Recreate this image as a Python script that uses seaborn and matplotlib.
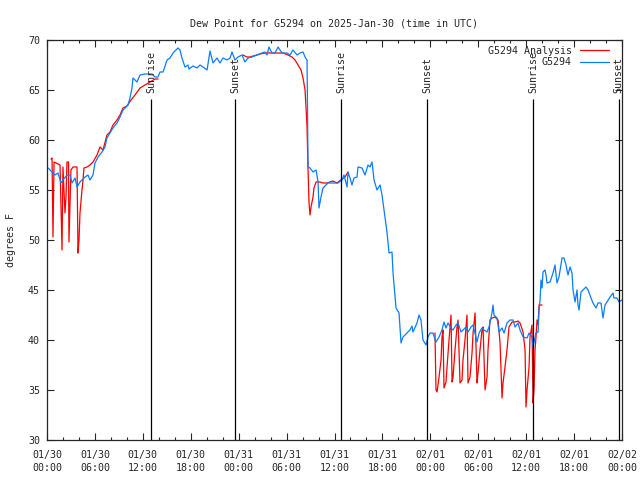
import numpy as np
import pandas as pd
import matplotlib
matplotlib.use('Agg')
import matplotlib.pyplot as plt
import matplotlib.dates as mdates
import seaborn as sns

# Hours since 2025-01-30 00:00 UTC, dew point in F
obs_hours = [0.13, 0.63, 1.00, 1.38, 1.75, 2.00, 2.50, 2.88, 3.13, 3.51, 3.76, 4.13, 4.38, 4.76, 5.13,
             5.38, 5.76, 6.01, 6.39, 6.89, 7.26, 7.51, 7.89, 8.26, 8.77, 9.14, 9.52, 10.14, 10.39, 10.64,
             10.77, 11.27, 11.65, 12.27, 13.15, 13.52, 13.90, 14.15, 14.53, 15.03, 15.40, 15.78, 16.40,
             16.65, 16.90, 17.28, 17.66, 17.78, 18.28, 18.78, 19.16, 19.53, 20.04, 20.41, 20.79, 21.29,
             21.66, 22.04, 22.54, 22.92, 23.17, 23.54, 23.92, 24.42, 24.79, 25.17, 25.67, 26.30, 26.92,
             27.30, 27.55, 27.80, 28.17, 28.55, 28.93, 29.43, 30.05, 30.43, 30.80, 31.31, 31.68, 32.06,
             32.31, 32.56, 32.62, 32.68, 32.93, 33.31, 33.69, 33.94, 34.06, 34.31, 34.56, 34.94, 35.19,
             35.81, 36.44, 36.94, 37.19, 37.57, 37.69, 37.94, 38.19, 38.44, 38.82, 38.94, 39.44, 39.82,
             40.20, 40.45, 40.70, 40.95, 41.32, 41.70, 41.95, 42.20, 42.57, 42.83, 43.20, 43.33, 43.70,
             44.08, 44.33, 44.58, 45.08, 45.45, 45.71, 45.83, 46.33, 46.58, 46.83, 47.08, 47.46, 47.71,
             47.96, 48.33, 48.71, 49.09, 49.46, 49.71, 49.96, 50.21, 50.59, 50.84, 51.22, 51.47, 51.84,
             52.09, 52.47, 52.72, 53.10, 53.35, 53.85, 54.10, 54.47, 54.72, 55.10, 55.35, 55.72, 55.85,
             55.97, 56.35, 56.60, 56.98, 57.23, 57.60, 57.98, 58.36, 58.61, 58.98, 59.23, 59.61, 60.11,
             60.36, 60.73, 60.86, 61.23, 61.49, 61.61, 61.74, 61.86, 61.99, 62.11, 62.36, 62.49, 62.61,
             62.99, 63.36, 63.61, 63.86, 64.11, 64.49, 64.74, 64.99, 65.24, 65.49, 65.74, 65.87, 66.12,
             66.37, 66.49, 66.62, 66.87, 67.12, 67.49, 67.75, 68.12, 68.37, 68.75, 69.00, 69.37, 69.62,
             69.87, 70.12, 70.50, 70.88, 71.00, 71.38, 71.63, 72.00]
obs_dewpt = [57.2, 56.8, 56.5, 56.7, 55.7, 56.0, 56.5, 56.5, 55.7, 56.2, 55.3, 55.8, 56.0, 56.3, 56.5,
             56.0, 56.5, 57.7, 58.3, 58.8, 59.3, 60.2, 60.7, 61.2, 61.7, 62.3, 63.0, 63.5, 64.2, 65.2,
             66.2, 65.8, 66.5, 66.6, 66.6, 66.3, 66.3, 66.8, 66.8, 68.0, 68.2, 68.7, 69.2,
             69.0, 68.2, 67.3, 67.5, 67.1, 67.4, 67.2, 67.5, 67.3, 67.0, 68.9, 67.7, 68.2,
             67.7, 68.2, 68.0, 68.2, 68.8, 68.0, 68.3, 68.5, 67.8, 68.2, 68.3, 68.5, 68.7,
             68.8, 68.5, 69.3, 68.7, 68.7, 69.3, 68.7, 68.7, 68.5, 69.0, 68.5, 68.7, 68.8,
             68.3, 68.0, 63.3, 57.3, 57.2, 56.8, 57.0, 55.8, 53.2, 54.3, 55.2, 55.5, 55.7,
             55.7, 55.7, 56.0, 56.5, 55.3, 56.8, 56.2, 55.5, 56.2, 56.3, 57.3, 57.2, 56.5,
             57.5, 57.3, 57.8, 56.0, 55.0, 55.5, 54.5, 53.0, 50.8, 48.7, 48.8, 46.7, 43.2,
             42.7, 39.7, 40.3, 40.7, 41.0, 41.4, 40.8, 41.7, 42.5, 42.0, 40.0, 39.5, 40.3,
             40.7, 40.7, 39.8, 40.3, 41.0, 41.8, 41.2, 41.7, 41.2, 41.0, 41.5, 41.7, 40.8,
             41.0, 41.3, 40.8, 41.3, 41.5, 39.8, 40.7, 41.2, 41.0, 40.8, 41.3, 42.7, 43.5,
             42.5, 42.2, 40.8, 41.2, 40.7, 41.7, 42.0, 42.0, 41.3, 41.7, 41.0, 40.3, 40.2,
             40.7, 40.3, 39.3, 40.7, 40.8, 43.0, 44.0, 46.0, 45.2, 46.8, 47.0, 46.5, 45.7,
             45.8, 46.7, 47.5, 45.7, 46.3, 48.2, 48.2, 47.5, 46.5, 47.3, 46.7, 45.0, 43.8,
             45.0, 43.5, 43.0, 44.8, 45.0, 45.3, 45.0, 44.2, 43.7, 43.2, 43.7, 43.7, 42.2,
             43.5, 43.8, 44.3, 44.7, 44.2, 44.2, 43.8, 44.0]

# Analysis series, three separate stretches
ana_seg = [1] * 42 + [2] * 34 + [3] * 64
ana_hours = [0.50, 0.63, 0.75, 0.88, 1.63, 1.88, 2.00, 2.25, 2.38, 2.50, 2.69, 2.75, 3.00, 3.26, 3.76,
             3.82, 3.88, 4.01, 4.13, 4.38, 4.51, 4.63, 5.01, 5.38, 5.76, 6.26, 6.64, 7.01, 7.51, 7.89,
             8.26, 8.77, 9.14, 9.52, 10.02, 10.52, 11.02, 11.65, 12.27, 12.90, 13.52, 13.90,
             24.54, 25.04, 25.42, 25.80, 26.30, 26.67, 27.30, 27.92, 28.80, 29.55, 30.18, 30.68, 31.06,
             31.43, 31.81, 32.06, 32.31, 32.43, 32.56, 32.68, 32.81, 32.93, 33.06, 33.31, 33.43, 33.69,
             34.19, 34.56, 35.06, 35.81, 36.31, 36.94, 37.32, 37.69,
             48.58, 48.71, 48.84, 49.09, 49.34, 49.46, 49.59, 49.71, 49.96, 50.09, 50.34, 50.59, 50.72,
             50.84, 51.09, 51.34, 51.47, 51.72, 51.97, 52.09, 52.34, 52.59, 52.72, 52.97, 53.22, 53.35,
             53.60, 53.85, 53.97, 54.22, 54.47, 54.60, 54.85, 55.10, 55.22, 55.47, 55.72, 56.10, 56.48,
             56.73, 56.98, 57.10, 57.35, 57.60, 57.85, 58.23, 58.61, 58.98, 59.23, 59.61, 59.86, 59.98,
             60.11, 60.36, 60.48, 60.73, 60.86, 60.98, 61.11, 61.23, 61.36, 61.49, 61.61, 61.99]
ana_dewpt = [58.1, 58.2, 50.3, 57.8, 57.5, 49.0, 57.3, 52.7, 54.3, 57.8, 57.8, 49.8, 57.0, 57.3, 57.3,
             53.0, 48.7, 50.0, 52.7, 55.0, 56.0, 57.2, 57.3, 57.5, 57.8, 58.5, 59.3, 59.0, 60.5, 60.8,
             61.5, 62.0, 62.5, 63.2, 63.4, 64.0, 64.5, 65.2, 65.5, 65.8, 66.1, 66.1,
             68.5, 68.3, 68.3, 68.4, 68.5, 68.6, 68.7, 68.7, 68.7, 68.7, 68.5, 68.3, 68.0,
             67.5, 67.0, 66.2, 65.0, 63.3, 61.3, 57.3, 53.7, 52.5, 53.3, 54.3, 55.2, 55.8,
             55.8, 55.7, 55.7, 55.9, 55.7, 56.1, 56.3, 56.8,
             40.7, 35.0, 34.8, 36.3, 38.0, 40.3, 41.0, 35.2, 35.8, 37.3, 40.0, 42.5, 35.8,
             36.3, 39.0, 41.3, 42.0, 35.7, 36.0, 38.0, 40.0, 42.5, 35.7, 36.3, 38.7, 40.7,
             42.7, 35.7, 36.7, 39.0, 41.0, 41.3, 35.0, 36.3, 39.0, 42.0, 42.2, 42.3, 42.0,
             39.7, 34.2, 35.7, 37.3, 39.0, 41.3, 41.8, 41.8, 41.9, 41.7, 40.8, 39.0, 33.3,
             35.0, 37.3, 40.3, 41.5, 33.7, 35.0, 39.0, 40.3, 42.0, 41.5, 43.5, 43.5]

# Sun events (hours since start)
sun_hours = [13.02, 23.54, 36.80, 47.58, 60.86, 71.60]
sun_labels = ['Sunrise', 'Sunset', 'Sunrise', 'Sunset', 'Sunrise', 'Sunset']

start = pd.Timestamp('2025-01-30 00:00')
end = pd.Timestamp('2025-02-02 00:00')

df_ana = pd.DataFrame({'time': start + pd.to_timedelta(ana_hours, unit='h'),
                       'dewpt': ana_dewpt, 'series': 'G5294 Analysis', 'seg': ana_seg})
df_obs = pd.DataFrame({'time': start + pd.to_timedelta(obs_hours, unit='h'),
                       'dewpt': obs_dewpt, 'series': 'G5294', 'seg': 0})
df = pd.concat([df_ana, df_obs], ignore_index=True)

sns.set_style('ticks')
plt.rcParams['font.family'] = ['DejaVu Sans Mono']
fs = 7.2

fig = plt.figure(figsize=(6.4, 4.8), dpi=100)
ax = fig.add_axes([47 / 640, 40 / 480, 575 / 640, 400 / 480])

sns.lineplot(data=df, x='time', y='dewpt', hue='series', units='seg', estimator=None,
             hue_order=['G5294 Analysis', 'G5294'],
             palette={'G5294 Analysis': '#ff0000', 'G5294': '#0a7cff'},
             linewidth=0.9, ax=ax)

sun_times = start + pd.to_timedelta(sun_hours, unit='h')
ax.vlines(sun_times, 30, 64.1, color='black', linewidth=0.9)
for t, lab in zip(sun_times, sun_labels):
    ax.text(t, 64.7, lab, rotation=90, ha='center', va='bottom', fontsize=fs)

ax.set_xlim(start, end)
ax.set_ylim(30, 70)
ax.set_yticks(np.arange(30, 71, 5))
ax.xaxis.set_major_locator(mdates.HourLocator(byhour=[0, 6, 12, 18]))
ax.xaxis.set_minor_locator(mdates.HourLocator(byhour=range(0, 24, 2)))
ax.xaxis.set_major_formatter(mdates.DateFormatter('%m/%d\n%H:%M'))
ax.tick_params(which='both', direction='in', top=True, right=True, labelsize=fs, width=0.8)
ax.tick_params(which='major', length=5)
ax.tick_params(which='minor', length=2.5)
ax.tick_params(axis='x', pad=7)
ax.tick_params(axis='y', pad=5)
for lab in ax.get_xticklabels():
    lab.set_linespacing(1.35)
for s in ax.spines.values():
    s.set_linewidth(0.9)

ax.set_xlabel('')
ax.set_ylabel('degrees F', fontsize=fs, labelpad=9)
ax.set_title('Dew Point for G5294 on 2025-Jan-30 (time in UTC)', fontsize=fs, pad=10)

ax.legend(loc='upper right', frameon=False, markerfirst=False, fontsize=fs,
          handlelength=2.9, handletextpad=0.8, labelspacing=0.15,
          borderaxespad=0.2, bbox_to_anchor=(0.987, 1.0))

fig.savefig('out.png', dpi=100)
